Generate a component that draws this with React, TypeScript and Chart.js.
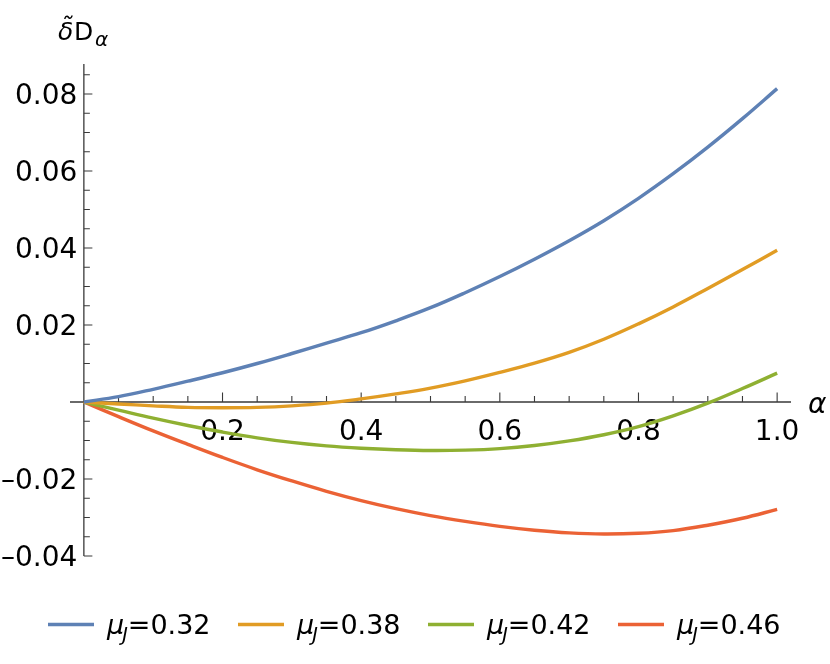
import { useEffect, useRef } from 'react';
import { Chart, registerables } from 'chart.js';

Chart.register(...registerables);

// alpha values the curves were read at
const ALPHA = [
  0, 0.05, 0.1, 0.15, 0.2, 0.25, 0.3, 0.35, 0.4, 0.45, 0.5,
  0.55, 0.6, 0.65, 0.7, 0.75, 0.8, 0.85, 0.9, 0.95, 1.0,
];

// delta D~_alpha for each mu_J
const MU_032 = [
  0, 0.0014, 0.0033, 0.0054, 0.0076, 0.0100, 0.0126, 0.0153, 0.0180, 0.0211, 0.0245,
  0.0284, 0.0326, 0.0371, 0.0419, 0.0471, 0.0529, 0.0593, 0.0662, 0.0736, 0.0814,
];
const MU_038 = [
  0, -0.0005, -0.0010, -0.0014, -0.0015, -0.0014, -0.0010, -0.0003, 0.0008, 0.0021, 0.0036,
  0.0055, 0.0077, 0.0101, 0.0129, 0.0163, 0.0203, 0.0247, 0.0295, 0.0344, 0.0394,
];
const MU_042 = [
  0, -0.0021, -0.0042, -0.0061, -0.0078, -0.0093, -0.0105, -0.0114, -0.0120, -0.0124, -0.0126,
  -0.0125, -0.0121, -0.0113, -0.0101, -0.0085, -0.0064, -0.0036, -0.0003, 0.0035, 0.0075,
];
const MU_046 = [
  0, -0.0038, -0.0075, -0.0110, -0.0144, -0.0176, -0.0205, -0.0232, -0.0256, -0.0277, -0.0295,
  -0.0310, -0.0323, -0.0333, -0.0340, -0.0343, -0.0341, -0.0334, -0.0320, -0.0302, -0.0279,
];

const SERIES = [MU_032, MU_038, MU_042, MU_046];
const MU_J = ['0.32', '0.38', '0.42', '0.46'];
const COLORS = ['#5E81B5', '#E19C24', '#8FB032', '#EB6235'];

const X_TICKS = [0.2, 0.4, 0.6, 0.8, 1.0];
const Y_TICKS = [-0.04, -0.02, 0.02, 0.04, 0.06, 0.08];

const FONT = "'DejaVu Sans', sans-serif";

const mmaAxes = {
  id: 'mmaAxes',
  beforeDatasetsDraw(chart: any) {
    const { ctx, chartArea } = chart;
    const x = chart.scales.x;
    const y = chart.scales.y;
    const x0 = x.getPixelForValue(0);
    const y0 = y.getPixelForValue(0);
    const yBottom = y.getPixelForValue(-0.04);

    ctx.save();
    ctx.strokeStyle = '#3a3a3a';
    ctx.lineWidth = 1.3;
    ctx.beginPath();
    ctx.moveTo(chartArea.left, y0);
    ctx.lineTo(chartArea.right, y0);
    ctx.moveTo(x0, chartArea.top);
    ctx.lineTo(x0, yBottom);
    ctx.stroke();

    // ticks pointing into the plot
    ctx.lineWidth = 1.1;
    ctx.beginPath();
    for (let i = 1; i <= 20; i++) {
      const px = x.getPixelForValue(i * 0.05);
      const len = i % 4 === 0 ? 9.5 : 6;
      ctx.moveTo(px, y0);
      ctx.lineTo(px, y0 - len);
    }
    for (let i = -8; i <= 17; i++) {
      if (i === 0) continue;
      const py = y.getPixelForValue(i * 0.005);
      const len = i % 4 === 0 ? 8.5 : 6;
      ctx.moveTo(x0, py);
      ctx.lineTo(x0 + len, py);
    }
    ctx.stroke();

    ctx.fillStyle = '#000';
    ctx.font = `28px ${FONT}`;
    ctx.textAlign = 'center';
    ctx.textBaseline = 'alphabetic';
    X_TICKS.forEach((v) => {
      ctx.fillText(v.toFixed(1), x.getPixelForValue(v), y0 + 37.5);
    });
    ctx.textAlign = 'right';
    Y_TICKS.forEach((v) => {
      const txt = v.toFixed(2).replace('-', '\u2013');
      ctx.fillText(txt, x0 - 6.5, y.getPixelForValue(v) + 10.3);
    });
    ctx.restore();
  },
  afterDraw(chart: any) {
    const { ctx } = chart;
    const y0 = chart.scales.y.getPixelForValue(0);
    ctx.save();
    ctx.fillStyle = '#000';
    ctx.textAlign = 'left';
    ctx.textBaseline = 'alphabetic';

    // axis labels
    ctx.font = `italic 28px ${FONT}`;
    ctx.fillText('\u03b1', 808, y0 + 10.7);

    ctx.font = `italic 25px ${FONT}`;
    ctx.fillText('\u03b4\u0303', 58, 40);
    ctx.font = `25px ${FONT}`;
    ctx.fillText('D', 74, 40);
    ctx.font = `italic 20px ${FONT}`;
    ctx.fillText('\u03b1', 95, 46);

    // legend
    MU_J.forEach((mu, i) => {
      const bx = 48 + 190 * i;
      ctx.strokeStyle = COLORS[i];
      ctx.lineWidth = 3.6;
      ctx.beginPath();
      ctx.moveTo(bx, 624.5);
      ctx.lineTo(bx + 46, 624.5);
      ctx.stroke();

      let tx = bx + 59;
      ctx.font = `italic 27px ${FONT}`;
      ctx.fillText('\u03bc', tx, 634.3);
      tx += ctx.measureText('\u03bc').width;
      ctx.font = `italic 19px ${FONT}`;
      ctx.fillText('J', tx - 2, 641);
      tx += ctx.measureText('J').width - 2;
      ctx.font = `27px ${FONT}`;
      ctx.fillText('=' + mu, tx, 634.3);
    });
    ctx.restore();
  },
};

const App = () => {
  const chartRef = useRef<HTMLCanvasElement>(null);
  const chartInstance = useRef<Chart | null>(null);

  useEffect(() => {
    if (!chartRef.current) return;
    if (chartInstance.current) {
      chartInstance.current.destroy();
    }
    const ctx = chartRef.current.getContext('2d');
    if (!ctx) return;

    chartInstance.current = new Chart(ctx, {
      type: 'line',
      data: {
        datasets: SERIES.map((vals, i) => ({
          label: 'μJ=' + MU_J[i],
          data: ALPHA.map((a, k) => ({ x: a, y: vals[k] })),
          borderColor: COLORS[i],
          backgroundColor: COLORS[i],
          borderWidth: 3.4,
          pointRadius: 0,
          tension: 0.4,
          fill: false,
        })),
      },
      options: {
        animation: false,
        responsive: true,
        maintainAspectRatio: false,
        layout: {
          padding: { left: 70, right: 39, top: 64, bottom: 108 },
        },
        plugins: {
          legend: { display: false },
          tooltip: { enabled: false },
        },
        scales: {
          x: { type: 'linear', min: -0.02, max: 1.02, display: false },
          y: { type: 'linear', min: -0.04, max: 0.0878, display: false },
        },
      },
      plugins: [mmaAxes],
    });

    return () => {
      if (chartInstance.current) {
        chartInstance.current.destroy();
        chartInstance.current = null;
      }
    };
  }, []);

  return (
    <div style={{ position: 'absolute', left: 0, top: 0, width: 830, height: 664, background: '#fff' }}>
      <canvas ref={chartRef}></canvas>
    </div>
  );
};

export default App;
